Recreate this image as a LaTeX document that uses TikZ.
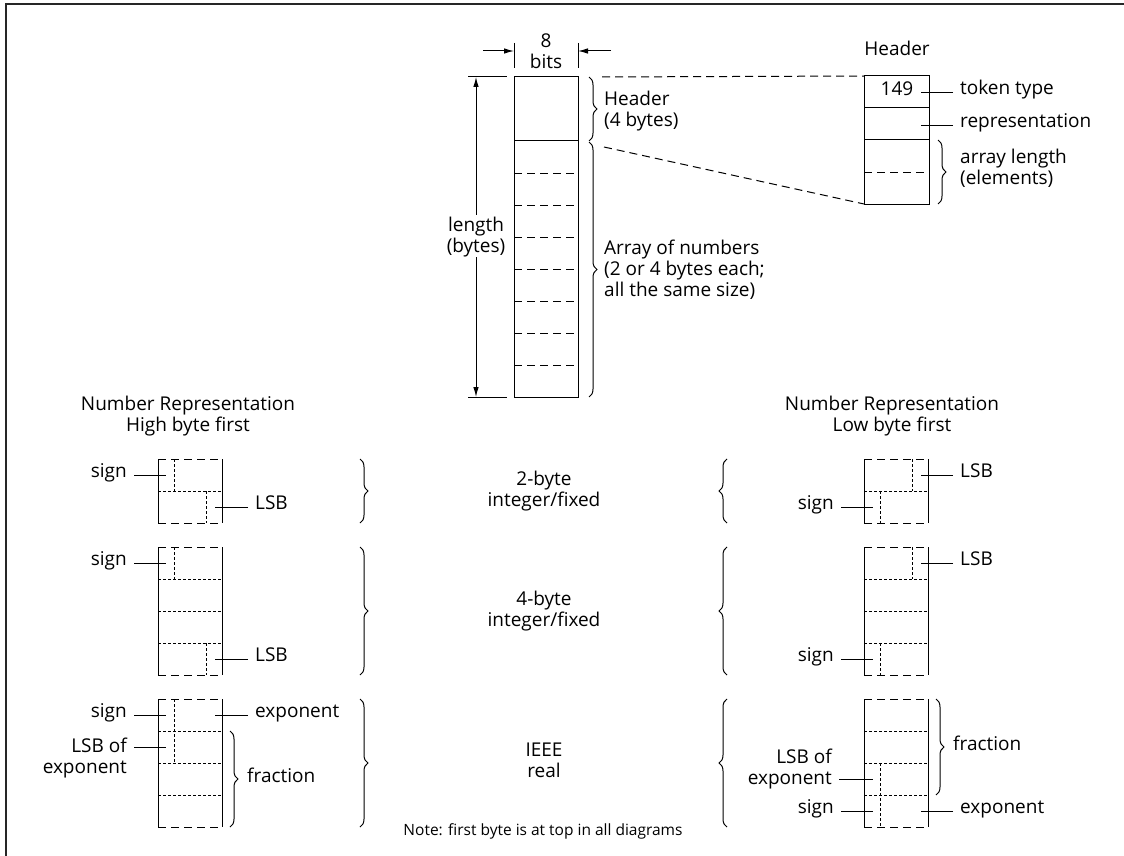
\documentclass[tikz,border=0pt]{standalone}
\usepackage{fontspec}
\setmainfont{Open Sans}
\usetikzlibrary{decorations.pathreplacing,arrows.meta}

\tikzset{
  frame/.style={line width=1.3pt, draw=black!85},
  main/.style={line width=1pt},
  cut/.style={line width=1pt, dash pattern=on 8pt off 5pt},
  fine/.style={line width=0.6pt, dash pattern=on 3pt off 2pt},
  lead/.style={line width=0.8pt, shorten <=7pt},
  brc/.style={decorate, decoration={brace, amplitude=8pt}, line width=1pt},
  txt/.style={inner sep=0pt, text height=0.72em, text depth=0.2em},
  two/.style={txt, text height=34.7pt},
  three/.style={txt, text height=55.7pt}
}

\begin{document}
\begin{tikzpicture}[x=1pt, y=-1pt, font=\fontsize{19}{21}\selectfont,
    >={Latex[length=10pt,width=5.5pt]}]
        \useasboundingbox (0,0) rectangle (1124,856);
        \draw[frame] (6,856) -- (6,4) -- (1124,4);

        % 8 bits
        \node[two, align=center] (bits) at (546,52) {8\\bits};
        \draw[main] (514,43) -- (514,68) (578,43) -- (578,68);
        \coordinate (bitsLa) at (483,51); \coordinate (bitsLb) at (514,51);
        \coordinate (bitsRa) at (611,51); \coordinate (bitsRb) at (578,51);
        \draw[main, ->] (bitsLa) -- (bitsLb);
        \draw[main, ->] (bitsRa) -- (bitsRb);

        % the token column
        \draw[main] (514,77) rectangle (578,397);
        \draw[main] (514,141) -- (578,141);
        \foreach \y in {173,205,...,365}
            \draw[cut] (514,\y) -- (577,\y);

        % length
        \draw[main] (468,77) -- (507,77) (468,397) -- (507,397);
        \coordinate (lenTop) at (476,77); \coordinate (lenBot) at (476,397);
        \draw[main, <->] (lenTop) -- (lenBot);
        \node[two, align=center, fill=white, inner sep=3pt] (len) at (476,236) {length\\(bytes)};

        % braces next to the column
        \draw[brc] (589,77) -- (589,141);
        \node[two, anchor=west, align=left] (hdrTxt) at (604,110.5) {Header\\(4 bytes)};
        \draw[brc] (589,142) -- (589,397);
        \node[three, anchor=west, align=left] (arrTxt) at (604,270) {Array of numbers\\(2 or 4 bytes each;\\all the same size)};

        % header detail
        \node[txt] (hdrTitle) at (897,53) {Header};
        \draw[main] (864,76) rectangle (929,204);
        \draw[main] (864,108) -- (929,108) (864,140) -- (929,140);
        \draw[cut] (864,172) -- (928,172);
        \coordinate (zoomA) at (602,77); \coordinate (zoomB) at (864,76);
        \coordinate (zoomC) at (604,147); \coordinate (zoomD) at (864,204);
        \draw[cut] (zoomA) -- (zoomB);
        \draw[cut] (zoomC) -- (zoomD);
        \node[txt] (tok) at (897,93) {149};
        \coordinate (tokP) at (921,92);
        \node[txt, anchor=west] (tokTxt) at (960,92) {token type};
        \draw[lead] (tokTxt.west) -- (tokP);
        \node[txt, anchor=west] (repTxt) at (960,125) {representation};
        \coordinate (repP) at (921,125);
        \draw[lead] (repTxt.west) -- (repP);
        \draw[brc] (938,140) -- (938,204);
        \node[two, anchor=west, align=left] (alenTxt) at (960,168) {array length\\(elements)};

        % number representation titles
        \node[two, align=center] (hiTitle) at (188,415) {Number Representation\\High byte first};
        \node[two, align=center] (loTitle) at (892,415) {Number Representation\\Low byte first};

        % byte boxes
        \foreach \bx/\ty/\by in {158/459/523, 158/547/675, 158/699/827,
                                 864/459/523, 864/547/675, 864/699/827}{
            \draw[main] (\bx,\ty) -- (\bx,\by) (\bx+64,\ty) -- (\bx+64,\by);
            \draw[cut] (\bx,\ty) -- (\bx+64,\ty) (\bx,\by) -- (\bx+64,\by);
        }
        \foreach \y in {491,579,611,643,731,763,795}{
            \draw[fine] (158,\y) -- (222,\y);
            \draw[fine] (864,\y) -- (928,\y);
        }
        \draw[fine] (174,459) -- (174,491) (206.5,491) -- (206.5,523);
        \draw[fine] (174,547) -- (174,579) (206.5,643) -- (206.5,675);
        \draw[fine] (174,699) -- (174,763);
        \draw[fine] (912.5,459) -- (912.5,491) (880.5,491) -- (880.5,523);
        \draw[fine] (912.5,547) -- (912.5,579) (880.5,643) -- (880.5,675);
        \draw[fine] (880.5,763) -- (880.5,827);

        % high byte first labels
        \node[txt, anchor=east] (signA) at (127,475) {sign};
        \coordinate (signAp) at (166,475);
        \draw[lead] (signA.east) -- (signAp);
        \node[txt, anchor=west] (lsbA) at (255,507) {LSB};
        \coordinate (lsbAp) at (215,507);
        \draw[lead] (lsbA.west) -- (lsbAp);
        \node[txt, anchor=east] (signB) at (127,563) {sign};
        \coordinate (signBp) at (166,563);
        \draw[lead] (signB.east) -- (signBp);
        \node[txt, anchor=west] (lsbB) at (255,659) {LSB};
        \coordinate (lsbBp) at (215,659);
        \draw[lead] (lsbB.west) -- (lsbBp);
        \node[txt, anchor=east] (signC) at (127,715) {sign};
        \coordinate (signCp) at (166,715);
        \draw[lead] (signC.east) -- (signCp);
        \node[two, anchor=east, align=right] (lsbeC) at (127,757.5) {LSB of\\exponent};
        \coordinate (lsbeCp) at (166,747);
        \draw[lead] (lsbeC.east |- lsbeCp) -- (lsbeCp);
        \node[txt, anchor=west] (expC) at (255,715) {exponent};
        \coordinate (expCp) at (215,715);
        \draw[lead] (expC.west) -- (expCp);
        \draw[brc] (230,731) -- (230,827);
        \node[txt, anchor=west] (fracC) at (247,780) {fraction};

        % low byte first labels
        \node[txt, anchor=west] (lsbD) at (960,475) {LSB};
        \coordinate (lsbDp) at (921,475);
        \draw[lead] (lsbD.west) -- (lsbDp);
        \node[txt, anchor=east] (signD) at (834,507) {sign};
        \coordinate (signDp) at (873,507);
        \draw[lead] (signD.east) -- (signDp);
        \node[txt, anchor=west] (lsbE) at (960,563) {LSB};
        \coordinate (lsbEp) at (921,563);
        \draw[lead] (lsbE.west) -- (lsbEp);
        \node[txt, anchor=east] (signE) at (834,659) {sign};
        \coordinate (signEp) at (873,659);
        \draw[lead] (signE.east) -- (signEp);
        \draw[brc] (936,699) -- (936,795);
        \node[txt, anchor=west] (fracF) at (953,748) {fraction};
        \node[two, anchor=east, align=right] (lsbeF) at (832,768.5) {LSB of\\exponent};
        \coordinate (lsbeFp) at (873,779);
        \draw[lead] (lsbeF.east |- lsbeFp) -- (lsbeFp);
        \node[txt, anchor=east] (signF) at (834,811) {sign};
        \coordinate (signFp) at (873,811);
        \draw[lead] (signF.east) -- (signFp);
        \node[txt, anchor=west] (expF) at (960,811) {exponent};
        \coordinate (expFp) at (921,811);
        \draw[lead] (expF.west) -- (expFp);

        % size braces and names
        \draw[brc] (360,459) -- (360,523);
        \draw[brc] (727,523) -- (727,459);
        \node[two, align=center] (twoB) at (544,490) {2-byte\\integer/fixed};
        \draw[brc] (360,547) -- (360,675);
        \draw[brc] (727,675) -- (727,547);
        \node[two, align=center] (fourB) at (544,610) {4-byte\\integer/fixed};
        \draw[brc] (360,699) -- (360,827);
        \draw[brc] (727,827) -- (727,699);
        \node[two, align=center] (ieee) at (544,761) {IEEE\\real};

        \node[txt, font=\fontsize{15.5}{17}\selectfont] (note) at (543,833) {Note: first byte is at top in all diagrams};
\end{tikzpicture}
\end{document}
